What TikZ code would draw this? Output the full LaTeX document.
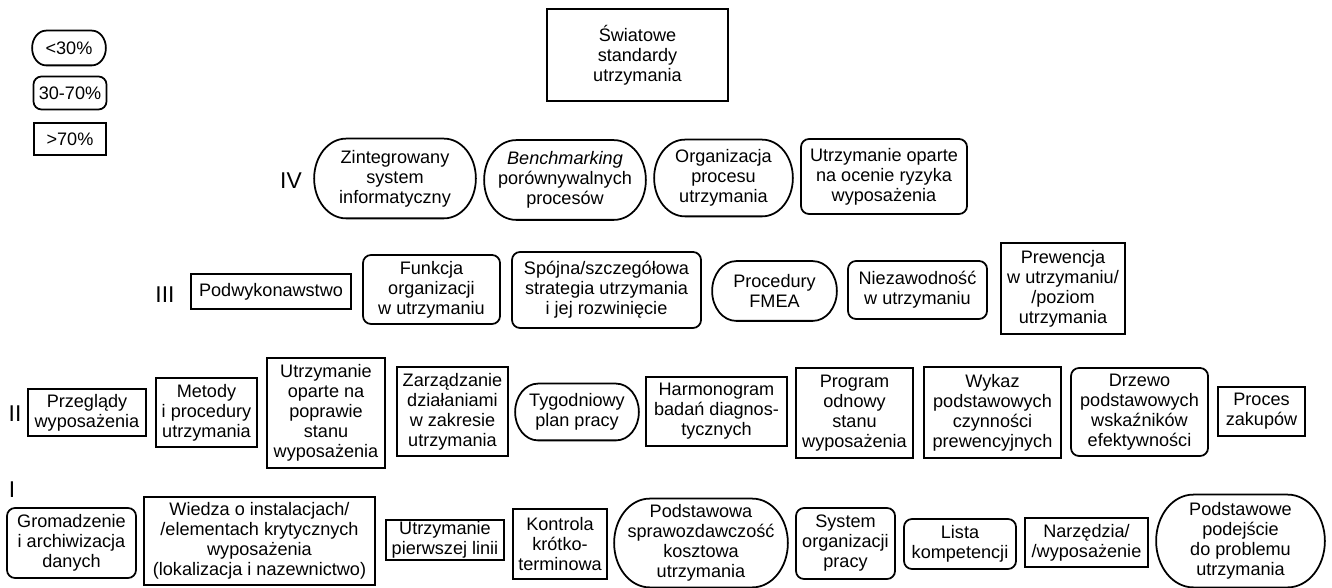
\documentclass[tikz,border=0pt]{standalone}
\usepackage{fontspec}
\setmainfont{Liberation Sans}
\usetikzlibrary{calc}

\begin{document}
\begin{tikzpicture}[every text node part/.style={align=center},
        every node/.style={font=\fontsize{10.3}{11.4}\selectfont, line width=1pt, inner sep=1pt},
        oval/.style={rectangle, append after command={\pgfextra{
            \draw[line width=1pt] let \p1=(\tikzlastnode.south west), \p2=(\tikzlastnode.north east),
                \n1={(\y2-\y1)/2}, \n2={0.4*(\y2-\y1)} in
                (\x1+\n2,\y2) -- (\x2-\n2,\y2) arc[start angle=90,end angle=-90,x radius=\n2,y radius=\n1]
                -- (\x1+\n2,\y1) arc[start angle=270,end angle=90,x radius=\n2,y radius=\n1] -- cycle;}}},
        rbox/.style={draw,rectangle,rounded corners=1.6mm},
        sbox/.style={draw,rectangle},
        lvl/.style={font=\fontsize{13}{14}\selectfont}]
        \useasboundingbox (0,0) rectangle (26.64,-11.76);

        % legend
        \node[oval,minimum width=1.44cm,minimum height=0.66cm] (low) at (1.38,-0.96) {<30\%};
        \node[rbox,minimum width=1.46cm,minimum height=0.66cm] (mid) at (1.40,-1.86) {30-70\%};
        \node[sbox,minimum width=1.44cm,minimum height=0.64cm] (high) at (1.40,-2.78) {>70\%};

        \node[sbox,minimum width=3.62cm,minimum height=1.84cm] (swiat) at (12.75,-1.10) {Światowe\\standardy\\utrzymania};

        % level IV
        \node[lvl] (IV) at (5.82,-3.62) {IV};
        \node[oval,minimum width=3.2cm,minimum height=1.56cm] (zint) at (7.90,-3.57) {Zintegrowany\\system\\informatyczny};
        \node[oval,minimum width=3.2cm,minimum height=1.56cm] (bench) at (11.30,-3.60) {\textit{Benchmarking}\\porównywalnych\\procesów};
        \node[oval,minimum width=2.74cm,minimum height=1.5cm] (orgproc) at (14.47,-3.56) {Organizacja\\procesu\\utrzymania};
        \node[rbox,minimum width=3.32cm,minimum height=1.5cm] (ryzyko) at (17.68,-3.53) {Utrzymanie oparte\\na ocenie ryzyka\\wyposażenia};

        % level III
        \node[lvl] (III) at (3.30,-5.90) {III};
        \node[sbox,minimum width=3.2cm,minimum height=0.7cm] (podwyk) at (5.42,-5.83) {Podwykonawstwo};
        \node[rbox,minimum width=2.74cm,minimum height=1.38cm] (funkcja) at (8.63,-5.79) {Funkcja\\organizacji\\w utrzymaniu};
        \node[rbox,minimum width=3.78cm,minimum height=1.52cm] (spojna) at (12.13,-5.80) {Spójna/szczegółowa\\strategia utrzymania\\i jej rozwinięcie};
        \node[oval,minimum width=2.46cm,minimum height=1.16cm] (fmea) at (15.49,-5.82) {Procedury\\FMEA};
        \node[rbox,minimum width=2.78cm,minimum height=1.16cm] (niezaw) at (18.35,-5.80) {Niezawodność\\w utrzymaniu};
        \node[sbox,minimum width=2.48cm,minimum height=1.82cm] (prewencja) at (21.26,-5.77) {Prewencja\\w utrzymaniu/\\/poziom\\utrzymania};

        % level II
        \node[lvl] (II) at (0.30,-8.28) {II};
        \node[sbox,minimum width=2.36cm,minimum height=0.94cm] (przeglady) at (1.74,-8.25) {Przeglądy\\wyposażenia};
        \node[sbox,minimum width=2.02cm,minimum height=1.38cm] (metody) at (4.13,-8.25) {Metody\\i procedury\\utrzymania};
        \node[sbox,minimum width=2.36cm,minimum height=2.2cm] (poprawa) at (6.52,-8.26) {Utrzymanie\\oparte na\\poprawie\\stanu\\wyposażenia};
        \node[sbox,minimum width=2.22cm,minimum height=1.78cm] (zarzadz) at (9.05,-8.23) {Zarządzanie\\działaniami\\w zakresie\\utrzymania};
        \node[oval,minimum width=2.44cm,minimum height=1.1cm] (tydzien) at (11.54,-8.24) {Tygodniowy\\plan pracy};
        \node[sbox,minimum width=2.82cm,minimum height=1.38cm] (harmono) at (14.33,-8.23) {Harmonogram\\badań diagnos-\\tycznych};
        \node[sbox,minimum width=2.34cm,minimum height=1.8cm] (odnowa) at (17.09,-8.26) {Program\\odnowy\\stanu\\wyposażenia};
        \node[sbox,minimum width=2.74cm,minimum height=1.82cm] (wykaz) at (19.85,-8.25) {Wykaz\\podstawowych\\czynności\\prewencyjnych};
        \node[rbox,minimum width=2.74cm,minimum height=1.76cm] (drzewo) at (22.79,-8.24) {Drzewo\\podstawowych\\wskaźników\\efektywności};
        \node[sbox,minimum width=1.74cm,minimum height=0.98cm] (zakupy) at (25.23,-8.23) {Proces\\zakupów};

        % level I
        \node[lvl] (I) at (0.24,-9.80) {I};
        \node[rbox,minimum width=2.58cm,minimum height=1.4cm] (gromadz) at (1.43,-10.86) {Gromadzenie\\i archiwizacja\\danych};
        \node[sbox,minimum width=4.62cm,minimum height=1.76cm] (wiedza) at (5.19,-10.82) {Wiedza o instalacjach/\\/elementach krytycznych\\wyposażenia\\(lokalizacja i nazewnictwo)};
        \node[sbox,minimum width=2.36cm,minimum height=0.76cm] (pierwsza) at (8.90,-10.80) {Utrzymanie\\pierwszej linii};
        \node[sbox,minimum width=1.88cm,minimum height=1.4cm] (kontrola) at (11.20,-10.88) {Kontrola\\krótko-\\terminowa};
        \node[oval,minimum width=3.44cm,minimum height=1.74cm] (koszty) at (14.02,-10.86) {Podstawowa\\sprawozdawczość\\kosztowa\\utrzymania};
        \node[rbox,minimum width=1.98cm,minimum height=1.42cm] (sysorg) at (16.91,-10.87) {System\\organizacji\\pracy};
        \node[rbox,minimum width=2.24cm,minimum height=1.0cm] (lista) at (19.20,-10.88) {Lista\\kompetencji};
        \node[sbox,minimum width=2.46cm,minimum height=0.98cm] (narzedzia) at (21.73,-10.85) {Narzędzia/\\/wyposażenie};
        \node[oval,minimum width=3.34cm,minimum height=1.82cm] (podejscie) at (24.81,-10.82) {Podstawowe\\podejście\\do problemu\\utrzymania};
\end{tikzpicture}
\end{document}
